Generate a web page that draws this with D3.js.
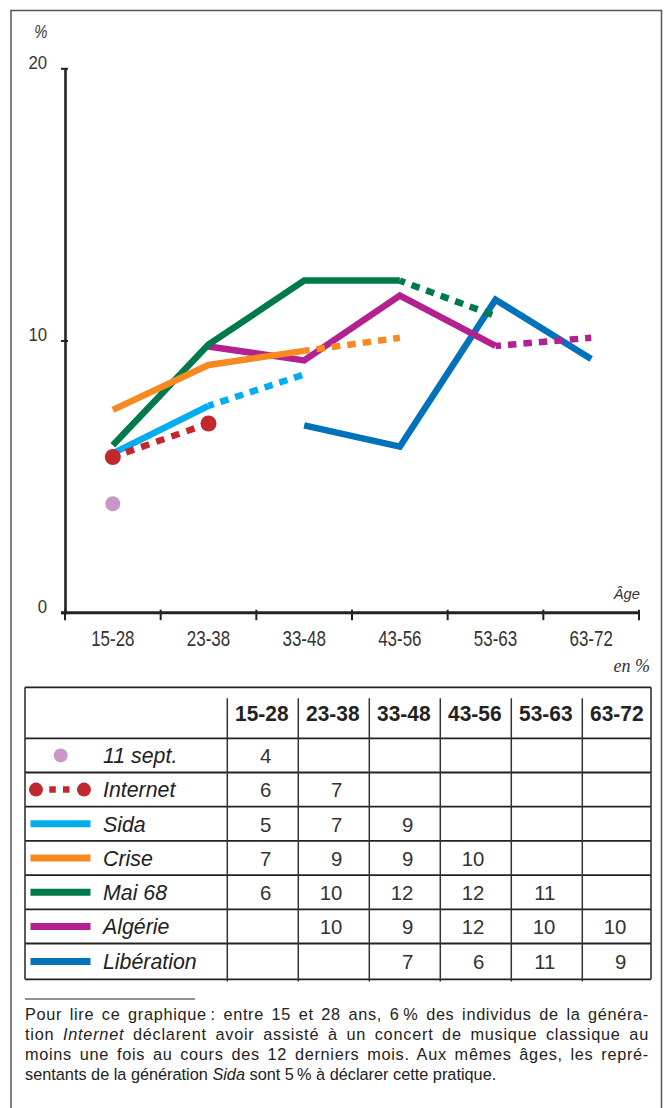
<!DOCTYPE html>
<html><head><meta charset="utf-8">
<script src="https://cdn.jsdelivr.net/npm/d3@7"></script>
<style>
body{margin:0;background:#fff}
svg{display:block}
text{font-family:"Liberation Sans",Arial,sans-serif}
</style>
</head><body>
<svg id="c" width="668" height="1108"></svg>
<script>
// ---------- DATA ----------
const ageGroups = ["15-28","23-38","33-48","43-56","53-63","63-72"];
const generations = ["11 sept.","Internet","Sida","Crise","Mai 68","Algérie","Libération"];
const genColors = ["#c896c8","#c1272d","#00aeef","#f6891f","#007a4a","#b3208f","#0071bb"];
const sept11Values     = [4.0, null, null, null, null, null];
const internetValues   = [5.72, 6.95, null, null, null, null];
const sidaValues       = [5.85, 7.6, 8.75, null, null, null];
const criseValues      = [7.45, 9.1, 9.62, 10.1, null, null];
const mai68Values      = [6.15, 9.85, 12.2, 12.2, 10.9, null];
const algerieValues    = [null, 9.78, 9.27, 11.65, 9.8, 10.1];
const liberationValues = [null, null, 6.88, 6.1, 11.5, 9.32];
// values printed in the table
const sept11Table     = ["4","","","","",""];
const internetTable   = ["6","7","","","",""];
const sidaTable       = ["5","7","9","","",""];
const criseTable      = ["7","9","9","10","",""];
const mai68Table      = ["6","10","12","12","11",""];
const algerieTable    = ["","10","9","12","10","10"];
const liberationTable = ["","","7","6","11","9"];
const yTicks = [0, 10, 20];
const noteLines = [
  [["Pour lire ce graphique\u2009: entre 15 et 28 ans, 6\u2009% des individus de la généra-", false]],
  [["tion ", false], ["Internet", true], [" déclarent avoir assisté à un concert de musique classique au", false]],
  [["moins une fois au cours des 12 derniers mois. Aux mêmes âges, les repré-", false]],
  [["sentants de la génération ", false], ["Sida", true], [" sont 5\u2009% à déclarer cette pratique.", false]]
];

const seriesValues = [sept11Values, internetValues, sidaValues, criseValues, mai68Values, algerieValues, liberationValues];
const tableValues = [sept11Table, internetTable, sidaTable, criseTable, mai68Table, algerieTable, liberationTable];
// kind of drawing per generation
const kinds = ["dot","dashdots","solidDotted","solidDotted","solidDotted","solidDotted","solid"];

// ---------- HELPERS ----------
const svg = d3.select("#c");
function squeeze(sel, k){
  sel.each(function(){
    const w = this.getComputedTextLength();
    this.setAttribute("textLength", (w*k).toFixed(2));
    this.setAttribute("lengthAdjust","spacingAndGlyphs");
  });
}

// ---------- FRAME ----------
svg.append("path").attr("d","M11,1112V10.5H661.5V1112")
  .attr("fill","none").attr("stroke","#555").attr("stroke-width",1.5);

// ---------- SCALES ----------
const x = d3.scaleBand().domain(ageGroups).range([65, 639]);
const cx = d => x(d) + x.bandwidth()/2;
const y = d3.scaleLinear().domain([0, 20]).range([612.7, 68.3]);

// ---------- AXES ----------
const gy = svg.append("g").attr("transform","translate(65,0)")
  .call(d3.axisLeft(y).tickValues(yTicks).tickSize(4).tickSizeOuter(0));
gy.select(".domain").attr("stroke","#222").attr("stroke-width",2.6);
gy.selectAll(".tick line").attr("x1",-4).attr("x2",3).attr("stroke","#222").attr("stroke-width",2);
gy.selectAll(".tick text").attr("x",-18).attr("dy",0).attr("y",0)
  .attr("fill","#333").attr("font-size",19).attr("font-family","Liberation Sans, Arial, sans-serif")
  .call(squeeze, 0.88);

const gx = svg.append("g").attr("transform",`translate(0,${y(0)})`)
  .call(d3.axisBottom(x).tickSize(0).tickSizeOuter(0));
gx.select(".domain").remove();
gx.append("line").attr("x1",61).attr("x2",x.range()[1]).attr("stroke","#222").attr("stroke-width",3);
const bounds = ageGroups.map(d => x(d)).concat([x.range()[1]]);
gx.selectAll(".bnd").data(bounds).join("line").attr("class","bnd")
  .attr("x1",d=>d).attr("x2",d=>d).attr("y1",-3).attr("y2",7.5)
  .attr("stroke","#222").attr("stroke-width",2);
gx.selectAll(".tick text").attr("y",646-y(0)).attr("dy",0)
  .attr("fill","#333").attr("font-size",22).attr("font-family","Liberation Sans, Arial, sans-serif")
  .call(squeeze, 0.77);

svg.append("text").attr("x",47.5).attr("y",38.3).attr("text-anchor","end")
  .attr("font-size",18).attr("font-style","italic").attr("fill","#333").text("%").call(squeeze,0.82);
svg.append("text").attr("x",640).attr("y",599).attr("text-anchor","end")
  .attr("font-size",15.5).attr("font-style","italic").attr("fill","#333").text("Âge").call(squeeze,0.95);
svg.append("text").attr("x",650).attr("y",672).attr("text-anchor","end")
  .attr("font-size",18).attr("font-style","italic").attr("fill","#333")
  .style("font-family","Liberation Serif, Times New Roman, serif").text("en %");

// ---------- LINES ----------
const line = d3.line().x(d => cx(d.g)).y(d => y(d.v)).curve(d3.curveLinear);
const plot = svg.append("g").attr("fill","none").attr("stroke-linejoin","miter").attr("stroke-linecap","butt");
const order = [6,5,4,3,2,1,0];
order.forEach(i => {
  const pts = ageGroups.map((g, j) => ({g, v: seriesValues[i][j]})).filter(d => d.v != null);
  const col = genColors[i];
  const kind = kinds[i];
  if (kind === "solid") {
    plot.append("path").attr("d", line(pts)).attr("stroke", col).attr("stroke-width", 6.5);
  } else if (kind === "solidDotted") {
    const n = pts.length;
    plot.append("path").attr("d", line(pts.slice(0, n-1))).attr("stroke", col).attr("stroke-width", 6.5);
    plot.append("path").attr("d", line(pts.slice(n-2))).attr("stroke", col).attr("stroke-width", 6.5)
      .attr("stroke-dasharray","8.5,7").attr("stroke-dashoffset",3);
  } else if (kind === "dashdots") {
    plot.append("path").attr("d", line(pts)).attr("stroke", col).attr("stroke-width", 6.5)
      .attr("stroke-dasharray","8.5,7.5").attr("stroke-dashoffset",2);
    plot.selectAll(null).data([pts[0], pts[pts.length-1]]).join("circle")
      .attr("cx", d => cx(d.g)).attr("cy", d => y(d.v)).attr("r", 8).attr("fill", col).attr("stroke","none");
  } else {
    plot.selectAll(null).data(pts).join("circle")
      .attr("cx", d => cx(d.g)).attr("cy", d => y(d.v)).attr("r", 7.5).attr("fill", col).attr("stroke","none");
  }
});

// ---------- TABLE ----------
const tLeft = 25, tRight = 651, tTop = 687.3, headBottom = 738.3, rowH = 34.2, tBottom = 979.3;
const tx = d3.scaleBand().domain(ageGroups).range([227.3, 227.3 + 6*71]);
const rowTops = generations.map((g, i) => headBottom + i*rowH);
const rowMid = i => (i < generations.length-1) ? rowTops[i] + rowH/2 : (rowTops[i] + tBottom)/2;
const tg = svg.append("g");
const hLines = [tTop, ...rowTops, tBottom];
tg.selectAll(".h").data(hLines).join("line").attr("class","h")
  .attr("x1",tLeft).attr("x2",tRight).attr("y1",d=>d).attr("y2",d=>d)
  .attr("stroke","#222").attr("stroke-width",1.8);
tg.selectAll(".v").data([tLeft, tRight]).join("line").attr("class","v")
  .attr("x1",d=>d).attr("x2",d=>d).attr("y1",tTop).attr("y2",tBottom)
  .attr("stroke","#333").attr("stroke-width",1.6);
tg.selectAll(".c").data(ageGroups).join("line").attr("class","c")
  .attr("x1",d=>tx(d)).attr("x2",d=>tx(d)).attr("y1",698.3).attr("y2",981.5)
  .attr("stroke","#333").attr("stroke-width",1.5);
// header
tg.selectAll(".hd").data(ageGroups).join("text").attr("class","hd")
  .attr("x",d=>tx(d)+tx.bandwidth()/2 - 1).attr("y",721).attr("text-anchor","middle")
  .attr("font-weight","bold").attr("font-size",22).attr("fill","#222").text(d=>d)
  .call(squeeze, 0.95);
// legend + names
generations.forEach((g, i) => {
  const my = rowMid(i);
  const col = genColors[i];
  if (kinds[i] === "dot") {
    tg.append("circle").attr("cx",60.7).attr("cy",my).attr("r",7).attr("fill",col);
  } else if (kinds[i] === "dashdots") {
    tg.append("line").attr("x1",49.3).attr("x2",70).attr("y1",my).attr("y2",my)
      .attr("stroke",col).attr("stroke-width",6.5).attr("stroke-dasharray","6.5,7.2");
    tg.selectAll(null).data([36, 84]).join("circle").attr("cx",d=>d).attr("cy",my).attr("r",7).attr("fill",col);
  } else {
    tg.append("line").attr("x1",30.5).attr("x2",90.5).attr("y1",my).attr("y2",my)
      .attr("stroke",col).attr("stroke-width",7);
  }
  tg.append("text").attr("x",103).attr("y",my+7.8).attr("font-style","italic")
    .attr("font-size",22).attr("fill","#222").text(g).call(squeeze, 0.97);
  tg.selectAll(null).data(tableValues[i].map((v, j) => ({v, a: ageGroups[j]})).filter(d => d.v !== ""))
    .join("text").attr("x", d => tx(d.a) + tx.bandwidth()/2 + 8.5).attr("y", my+7.8)
    .attr("text-anchor","end").attr("font-size",21).attr("fill","#333").text(d => d.v)
    .call(squeeze, 0.97);
});

// ---------- NOTE ----------
svg.append("line").attr("x1",25).attr("x2",195).attr("y1",999).attr("y2",999)
  .attr("stroke","#222").attr("stroke-width",1.2);
noteLines.forEach((parts, i) => {
  const t = svg.append("text").attr("x",25).attr("y",1020 + i*20).attr("font-size",16.3)
    .attr("fill","#222").style("white-space","pre");
  parts.forEach(([s, it]) => {
    t.append("tspan").attr("font-style", it ? "italic" : "normal").text(s);
  });
  if (i < noteLines.length - 1) {
    const w = t.node().getComputedTextLength();
    const txt = parts.map(p => p[0]).join("");
    const ns = (txt.match(/ /g) || []).length;
    const extra = (649 - 25 - w);
    t.style("word-spacing", (extra * 0.4 / ns).toFixed(3) + "px");
    t.style("letter-spacing", (extra * 0.6 / txt.length).toFixed(3) + "px");
  }
});
</script>
</body></html>
